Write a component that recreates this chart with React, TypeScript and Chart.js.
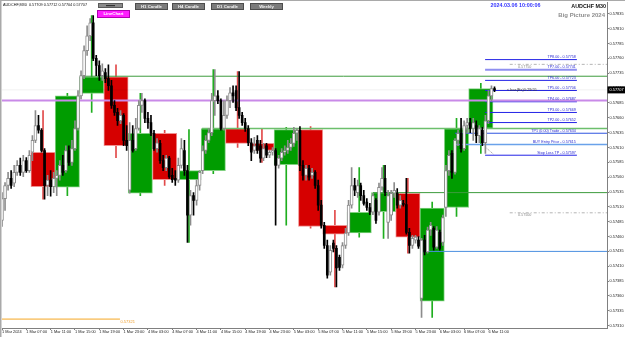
import { useEffect, useRef } from "react";
import { Chart, registerables } from "chart.js";
Chart.register(...registerables);

const FONT = "'Liberation Sans', Arial, sans-serif";

// ---- M30 candles (AUDCHF, 1 Mar 03:00 .. 6 Mar 12:00) ----
const m30Open = [0.57487,0.57524,0.57546,0.57558,0.57550,0.57568,0.57580,0.57568,0.57588,0.57571,
0.57602,0.57622,0.57647,0.57639,0.57605,0.57546,0.57555,0.57544,
0.57558,0.57563,0.57580,0.57571,0.57605,0.57585,0.57608,0.57642,
0.57697,0.57731,0.57773,0.57798,0.57820,0.57760,0.57748,0.57731,
0.57736,0.57726,0.57714,0.57681,0.57669,0.57655,0.57664,0.57622,
0.57538,0.57622,0.57608,0.57642,0.57681,0.57689,0.57659,0.57652,
0.57634,0.57608,0.57617,0.57588,0.57576,0.57592,0.57563,0.57558,
0.57555,0.57580,0.57605,0.57571,0.57496,0.57529,0.57521,0.57546,
0.57571,0.57605,0.57622,0.57635,0.57689,0.57697,0.57689,0.57642,
0.57664,0.57689,0.57702,0.57706,0.57677,0.57664,0.57652,0.57642,
0.57618,0.57605,0.57622,0.57613,0.57592,0.57613,0.57597,0.57602,
0.57605,0.57580,0.57592,0.57602,0.57605,0.57610,0.57617,0.57634,
0.57639,0.57580,0.57563,0.57575,0.57563,0.57568,0.57546,0.57513,
0.57479,0.57445,0.57400,0.57449,0.57440,0.57425,0.57412,0.57445,
0.57466,0.57513,0.57546,0.57534,0.57546,0.57529,0.57518,0.57509,
0.57501,0.57521,0.57501,0.57543,0.57558,0.57484,0.57496,0.57533,
0.57533,0.57513,0.57516,0.57514,0.57467,0.57445,0.57454,0.57454,
0.57356,0.57454,0.57434,0.57471,0.57474,0.57442,0.57467,0.57450,
0.57509,0.57571,0.57600,0.57568,0.57622,0.57634,0.57608,0.57647,
0.57652,0.57642,0.57647,0.57630,0.57639,0.57618,0.57655,0.57697,0.57709];
const m30High = [0.57534,0.57551,0.57568,0.57571,0.57580,0.57588,0.57592,0.57597,0.57593,0.57605,
0.57630,0.57672,0.57664,0.57642,0.57608,0.57563,0.57571,0.57568,
0.57571,0.57588,0.57597,0.57613,0.57613,0.57622,0.57655,0.57706,
0.57739,0.57781,0.57815,0.57827,0.57832,0.57765,0.57756,0.57751,
0.57743,0.57749,0.57723,0.57689,0.57676,0.57672,0.57667,0.57647,
0.57652,0.57647,0.57659,0.57689,0.57701,0.57692,0.57669,0.57664,
0.57639,0.57625,0.57622,0.57597,0.57597,0.57595,0.57575,0.57571,
0.57592,0.57625,0.57622,0.57580,0.57538,0.57534,0.57555,0.57571,
0.57613,0.57630,0.57642,0.57701,0.57741,0.57706,0.57692,0.57689,
0.57697,0.57711,0.57714,0.57714,0.57738,0.57669,0.57659,0.57647,
0.57625,0.57627,0.57630,0.57622,0.57617,0.57617,0.57605,0.57610,
0.57608,0.57597,0.57608,0.57613,0.57622,0.57625,0.57644,0.57642,
0.57645,0.57588,0.57580,0.57580,0.57575,0.57571,0.57555,0.57521,
0.57484,0.57454,0.57445,0.57454,0.57445,0.57429,0.57450,0.57474,
0.57521,0.57576,0.57558,0.57555,0.57550,0.57538,0.57524,0.57516,
0.57533,0.57524,0.57550,0.57576,0.57580,0.57538,0.57538,0.57551,
0.57541,0.57529,0.57521,0.57558,0.57474,0.57462,0.57462,0.57460,
0.57457,0.57462,0.57476,0.57484,0.57477,0.57477,0.57471,0.57496,
0.57580,0.57605,0.57605,0.57625,0.57639,0.57659,0.57655,0.57659,
0.57659,0.57659,0.57655,0.57647,0.57644,0.57664,0.57706,0.57714,0.57712];
const m30Low = [0.57477,0.57504,0.57538,0.57541,0.57544,0.57563,0.57563,0.57561,0.57568,0.57568,
0.57588,0.57618,0.57634,0.57602,0.57523,0.57529,0.57528,0.57534,
0.57529,0.57555,0.57563,0.57568,0.57580,0.57580,0.57605,0.57639,
0.57692,0.57726,0.57765,0.57790,0.57756,0.57731,0.57723,0.57723,
0.57719,0.57706,0.57676,0.57664,0.57647,0.57650,0.57613,0.57605,
0.57533,0.57602,0.57605,0.57639,0.57669,0.57652,0.57642,0.57630,
0.57605,0.57602,0.57583,0.57571,0.57571,0.57558,0.57551,0.57546,
0.57551,0.57575,0.57563,0.57450,0.57479,0.57496,0.57513,0.57538,
0.57566,0.57600,0.57618,0.57630,0.57664,0.57684,0.57639,0.57639,
0.57659,0.57677,0.57686,0.57672,0.57659,0.57647,0.57637,0.57613,
0.57588,0.57600,0.57600,0.57585,0.57588,0.57593,0.57593,0.57597,
0.57479,0.57575,0.57588,0.57597,0.57600,0.57605,0.57612,0.57622,
0.57571,0.57555,0.57555,0.57555,0.57558,0.57541,0.57504,0.57474,
0.57440,0.57390,0.57395,0.57434,0.57375,0.57403,0.57407,0.57440,
0.57462,0.57508,0.57529,0.57526,0.57521,0.57513,0.57504,0.57497,
0.57497,0.57482,0.57496,0.57538,0.57529,0.57457,0.57487,0.57526,
0.57508,0.57508,0.57511,0.57464,0.57432,0.57440,0.57449,0.57440,
0.57324,0.57429,0.57432,0.57462,0.57437,0.57440,0.57437,0.57445,
0.57494,0.57563,0.57558,0.57565,0.57613,0.57602,0.57605,0.57634,
0.57635,0.57622,0.57618,0.57618,0.57613,0.57600,0.57650,0.57689,0.57704];
const m30Close = [0.57524,0.57546,0.57558,0.57546,0.57568,0.57580,0.57568,0.57588,0.57571,0.57597,
0.57622,0.57647,0.57639,0.57605,0.57546,0.57555,0.57544,0.57558,
0.57563,0.57580,0.57568,0.57605,0.57585,0.57608,0.57642,0.57697,
0.57731,0.57773,0.57798,0.57820,0.57760,0.57748,0.57731,0.57739,
0.57726,0.57714,0.57681,0.57669,0.57655,0.57664,0.57622,0.57613,
0.57622,0.57605,0.57642,0.57681,0.57689,0.57659,0.57652,0.57634,
0.57608,0.57618,0.57588,0.57576,0.57592,0.57561,0.57556,0.57555,
0.57580,0.57608,0.57571,0.57496,0.57529,0.57521,0.57546,0.57568,
0.57605,0.57622,0.57635,0.57689,0.57697,0.57689,0.57642,0.57664,
0.57689,0.57702,0.57697,0.57677,0.57664,0.57652,0.57642,0.57618,
0.57602,0.57613,0.57605,0.57592,0.57608,0.57597,0.57602,0.57605,
0.57580,0.57592,0.57602,0.57605,0.57610,0.57617,0.57634,0.57639,
0.57580,0.57563,0.57575,0.57560,0.57568,0.57546,0.57513,0.57479,
0.57445,0.57395,0.57437,0.57440,0.57407,0.57408,0.57445,0.57466,
0.57513,0.57546,0.57538,0.57546,0.57529,0.57516,0.57509,0.57501,
0.57529,0.57487,0.57543,0.57558,0.57534,0.57529,0.57533,0.57538,
0.57513,0.57521,0.57514,0.57467,0.57445,0.57457,0.57459,0.57444,
0.57454,0.57434,0.57471,0.57479,0.57442,0.57471,0.57440,0.57492,
0.57571,0.57597,0.57568,0.57622,0.57634,0.57608,0.57647,0.57652,
0.57642,0.57652,0.57630,0.57642,0.57618,0.57655,0.57697,0.57709,0.57707];

// ---- H4 candles (first M30 bar index of each H4 bar) ----
const h4Bar = [10,18,26,34,42,50,58,66,74,82,90,98,106,114,122,130,138,146,154];
const h4Open = [0.57602,0.57543,0.57701,0.57729,0.57533,0.57634,0.57556,0.57571,0.57642,0.57617,0.57581,0.57640,0.57479,0.57466,0.57502,0.57533,0.57351,0.57509,0.57642];
const h4High = [0.57672,0.57701,0.57832,0.57749,0.57701,0.57639,0.57640,0.57741,0.57738,0.57642,0.57644,0.57645,0.57504,0.57576,0.57580,0.57558,0.57518,0.57659,0.57718];
const h4Low = [0.57523,0.57529,0.57669,0.57593,0.57529,0.57546,0.57450,0.57566,0.57610,0.57585,0.57479,0.57474,0.57375,0.57459,0.57457,0.57432,0.57324,0.57494,0.57600];
const h4Close = [0.57544,0.57697,0.57729,0.57613,0.57634,0.57556,0.57571,0.57642,0.57617,0.57605,0.57640,0.57477,0.57464,0.57501,0.57534,0.57459,0.57508,0.57642,0.57709];

// ---- axes ----
const xTickBars = [0,8,16,24,32,40,48,56,64,72,80,88,96,104,112,120,128,136,144,152,160];
const xTickLabels = ["1 Mar 2024","1 Mar 07:00","1 Mar 11:00","1 Mar 15:00","1 Mar 19:00","1 Mar 23:00",
"4 Mar 03:00","4 Mar 07:00","4 Mar 11:00","4 Mar 15:00","4 Mar 19:00","4 Mar 23:00",
"5 Mar 03:00","5 Mar 07:00","5 Mar 11:00","5 Mar 15:00","5 Mar 19:00","5 Mar 23:00",
"6 Mar 03:00","6 Mar 07:00","6 Mar 11:00"];
const yTickValues = [0.57835,0.57810,0.57785,0.57760,0.57735,0.57710,0.57685,0.57660,0.57635,0.57610,0.57585,
0.57560,0.57535,0.57510,0.57485,0.57460,0.57435,0.57410,0.57385,0.57360,0.57335,0.57310];

// ---- levels ----
const tpNames = ["TP8.00","TP7.00","TP6.00","TP5.00","TP4.00","TP3.00","TP2.00","TP1 (0.00) Trade","BUY Entry Price","Stop Loss TP"];
const tpPrices = [0.57758,0.57741,0.57723,0.57706,0.57687,0.57669,0.57652,0.57634,0.57615,0.57597];
const levelPrices = [0.57730,0.57689,0.57642,0.57534,0.57435,0.57321,0.57750,0.57500,0.57707];
const roundLevels = [0.57750,0.57500];
const orangeLevel = 0.57321;
const currentPrice = 0.57707;
const headerText = "AUDCHF,M30  0.57709 0.57712 0.57704 0.57707";
const clockText = "2024.03.06 10:00:06";
const countdownText = "< bas(Ex)0:29:55";
const buttonLabels = ["H1 Candle","H4 Candle","D1 Candle","Weekly"];

// styles for level lines (same order as levelPrices)
const levelStyles = [
  { from: 25.7, to: 199, color: "#3d9b3d", width: 1 },
  { from: 0, to: 199, color: "#c98ae8", width: 2 },
  { from: 65.8, to: 199, color: "#6cbf6c", width: 1.5 },
  { from: 122, to: 199, color: "#3d9b3d", width: 1 },
  { from: 138.5, to: 199, color: "#4a8fe0", width: 1 },
  { from: 0, to: 38.8, color: "#f5a623", width: 1 },
  { from: 167, to: 199, color: "#b4b4b4", width: 1, dash: [3, 2, 1, 2] },
  { from: 167, to: 199, color: "#b4b4b4", width: 1, dash: [3, 2, 1, 2] },
  { from: 0, to: 199, color: "rgba(0,0,0,0.06)", width: 1 },
];
const tpFrom = 158.9, tpTo = 189.1;

function drawButton(ctx: CanvasRenderingContext2D, x: number, y: number, w: number, h: number, fill: string, border: string, text: string, color: string) {
  ctx.fillStyle = fill;
  ctx.fillRect(x, y, w, h);
  ctx.strokeStyle = border;
  ctx.lineWidth = 1;
  ctx.strokeRect(x + 0.5, y + 0.5, w - 1, h - 1);
  if (text) {
    ctx.fillStyle = color;
    ctx.font = `bold 4.3px ${FONT}`;
    ctx.textAlign = "center";
    ctx.textBaseline = "middle";
    ctx.fillText(text, x + w / 2, y + h / 2 + 0.3);
  }
}

const overlay = {
  id: "overlay",
  afterDraw(chart: any) {
    const ctx: CanvasRenderingContext2D = chart.ctx;
    const xs = chart.scales.x;
    const ys = chart.scales.y;
    ctx.save();
    // frame
    ctx.fillStyle = "#a9a9a9";
    ctx.fillRect(0, 0, 625, 1);
    ctx.fillRect(0, 0, 1.5, 337);

    // header
    ctx.fillStyle = "#111";
    ctx.font = `3.8px ${FONT}`;
    ctx.textAlign = "left";
    ctx.textBaseline = "middle";
    ctx.fillText(headerText, 3, 4.5);

    // small gray button + LineChart
    drawButton(ctx, 98, 3, 25, 5, "#8a8a8a", "#5a5a5a", "", "#000");
    ctx.fillStyle = "#333";
    ctx.fillRect(106, 5, 9, 1.2);
    drawButton(ctx, 97, 10, 33, 8, "#ff1cff", "#b000b0", "LineChart", "#ffffff");
    const bx = [135, 172, 211, 250];
    buttonLabels.forEach((t, i) => drawButton(ctx, bx[i], 3, 33, 7, "#7b7b7b", "#4d4d4d", t, "#f2f2f2"));

    // clock & titles
    ctx.textBaseline = "middle";
    ctx.textAlign = "left";
    ctx.font = `bold 5.4px ${FONT}`;
    ctx.fillStyle = "#3434ff";
    ctx.fillText(clockText, 490.5, 6);
    ctx.fillStyle = "#111";
    ctx.font = `bold 5.4px ${FONT}`;
    ctx.textAlign = "right";
    ctx.fillText("AUDCHF M30", 606, 6.2);
    ctx.fillStyle = "#8e8e8e";
    ctx.font = `bold 6px ${FONT}`;
    ctx.fillText("Big Picture 2024", 605, 15);

    // TP labels
    ctx.font = `3.7px ${FONT}`;
    ctx.fillStyle = "#2b2bd0";
    ctx.textAlign = "right";
    ctx.textBaseline = "bottom";
    const xr = xs.getPixelForValue(tpTo) - 1;
    tpPrices.forEach((p, i) => {
      ctx.fillText(`${tpNames[i]} - ${p.toFixed(5)}`, xr, ys.getPixelForValue(p) - 0.6);
    });

    // round level labels
    ctx.font = `3.7px ${FONT}`;
    ctx.fillStyle = "#8a8a8a";
    ctx.textAlign = "left";
    ctx.textBaseline = "top";
    roundLevels.forEach((p) => ctx.fillText(p.toFixed(5), 518, ys.getPixelForValue(p) + 0.3));

    // orange label
    ctx.fillStyle = "#f0a030";
    ctx.font = `4px ${FONT}`;
    ctx.textBaseline = "top";
    ctx.fillText(orangeLevel.toFixed(5), xs.getPixelForValue(38.8) + 0.5, ys.getPixelForValue(orangeLevel) + 0.5);

    // countdown
    ctx.fillStyle = "#333";
    ctx.font = `3.9px ${FONT}`;
    ctx.textBaseline = "middle";
    ctx.fillText(countdownText, 507, ys.getPixelForValue(currentPrice));

    // current price tag
    const cy = ys.getPixelForValue(currentPrice);
    ctx.fillStyle = "#000";
    ctx.fillRect(607.5, cy - 3.5, 18, 7);
    ctx.fillStyle = "#fff";
    ctx.font = `3.9px ${FONT}`;
    ctx.textAlign = "left";
    ctx.fillText(currentPrice.toFixed(5), 609.5, cy + 0.2);
    ctx.restore();
  },
};

export default function App() {
  const ref = useRef<HTMLCanvasElement>(null);
  useEffect(() => {
    document.body.style.margin = "0";
    const canvas = ref.current!;
    const n = m30Open.length;
    const idx = Array.from({ length: n }, (_, i) => i);
    const bullIdx = idx.filter((i) => m30Close[i] >= m30Open[i]);
    const bearIdx = idx.filter((i) => m30Close[i] < m30Open[i]);
    const h4Bull = h4Open.map((o, k) => h4Close[k] >= o);

    const datasets: any[] = [];
    // M30 bodies
    datasets.push({
      type: "bar", order: 0, grouped: false, barThickness: 2, minBarLength: 1,
      data: bearIdx.map((i) => ({ x: i, y: [m30Open[i], m30Close[i]] })),
      backgroundColor: "#000", borderWidth: 0,
    });
    datasets.push({
      type: "bar", order: 0, grouped: false, barThickness: 3, minBarLength: 1,
      data: bullIdx.map((i) => ({ x: i, y: [m30Open[i], m30Close[i]] })),
      backgroundColor: "#ffffff", borderColor: "#8c8c8c", borderWidth: 1, borderSkipped: false,
    });
    // M30 wicks
    datasets.push({
      type: "bar", order: 1, grouped: false, barThickness: 1,
      data: idx.map((i) => ({ x: i, y: [m30Low[i], m30High[i]] })),
      backgroundColor: idx.map((i) => (m30Close[i] >= m30Open[i] ? "#8c8c8c" : "#000")),
      borderWidth: 0,
    });
    // level lines
    levelPrices.forEach((p, i) => {
      const s: any = levelStyles[i];
      datasets.push({
        type: "line", order: 2, data: [{ x: s.from, y: p }, { x: s.to, y: p }],
        borderColor: s.color, borderWidth: s.width, borderDash: s.dash || [], pointRadius: 0, fill: false,
      });
    });
    tpPrices.forEach((p, i) => {
      let from = tpFrom, to = tpTo, color = "#2323e6", width = 1;
      if (i === 1) { color = "#8f8ff0"; width = 2; }
      if (i === 7) { from = 149; to = 199; color = "#2f55e0"; }
      if (i === 8) { from = 149; to = 199; color = "#6aa2ea"; width = 1.5; }
      datasets.push({
        type: "line", order: 2, data: [{ x: from, y: p }, { x: to, y: p }],
        borderColor: color, borderWidth: width, pointRadius: 0, fill: false,
      });
    });
    datasets.push({
      type: "line", order: 2, data: [{ x: 158.9, y: tpPrices[8] - 0.00004 }, { x: 161.6, y: tpPrices[9] + 0.00002 }],
      borderColor: "#9a9a9a", borderWidth: 1, borderDash: [1, 1], pointRadius: 0, fill: false,
    });
    // H4 boxes
    datasets.push({
      type: "bar", order: 3, grouped: false, barThickness: 24.3,
      data: h4Bar.map((b, k) => ({ x: b + 3.5, y: [h4Open[k], h4Close[k]] })),
      backgroundColor: h4Bull.map((u) => (u ? "#009c00" : "#d60000")),
      borderColor: h4Bull.map((u) => (u ? "#7fd07f" : "#f09090")),
      borderWidth: 1, borderSkipped: false,
    });
    // H4 wicks
    datasets.push({
      type: "bar", order: 4, grouped: false, barThickness: 1,
      data: h4Bar.map((b, k) => ({ x: b + 3.5, y: [h4Low[k], h4High[k]] })),
      backgroundColor: h4Bull.map((u) => (u ? "#1fae1f" : "#e24a4a")),
      borderWidth: 0,
    });

    const chart = new Chart(canvas, {
      type: "bar",
      data: { datasets },
      options: {
        responsive: false,
        animation: false,
        devicePixelRatio: 1,
        events: [],
        layout: { padding: { left: 2, top: 2, right: 0, bottom: 0 } },
        plugins: { legend: { display: false }, tooltip: { enabled: false } },
        scales: {
          x: {
            type: "linear", position: "bottom", min: 0, max: 199, offset: false,
            afterBuildTicks: (s: any) => { s.ticks = xTickBars.map((v) => ({ value: v })); },
            afterFit: (s: any) => { s.height = 9; },
            grid: { drawOnChartArea: false, drawTicks: true, tickLength: 2, color: "#808080", offset: false },
            border: { display: true, color: "#808080" },
            ticks: {
              autoSkip: false, maxRotation: 0, minRotation: 0, align: "start", padding: 0,
              color: "#222", font: { size: 3.9, family: FONT },
              callback: (_v: any, i: number) => xTickLabels[i],
            },
          },
          y: {
            type: "linear", position: "right", min: 0.57306, max: 0.578536,
            afterBuildTicks: (s: any) => { s.ticks = yTickValues.map((v) => ({ value: v })); },
            afterFit: (s: any) => { s.width = 18; },
            grid: { drawOnChartArea: false, drawTicks: true, tickLength: 2, color: "#808080" },
            border: { display: true, color: "#808080" },
            ticks: {
              autoSkip: false, padding: 0.5, color: "#222", font: { size: 3.9, family: FONT },
              callback: (v: any) => Number(v).toFixed(5),
            },
          },
        },
      } as any,
      plugins: [overlay as any],
    });
    return () => chart.destroy();
  }, []);
  return <canvas ref={ref} width={625} height={337} style={{ display: "block", width: 625, height: 337 }} />;
}
